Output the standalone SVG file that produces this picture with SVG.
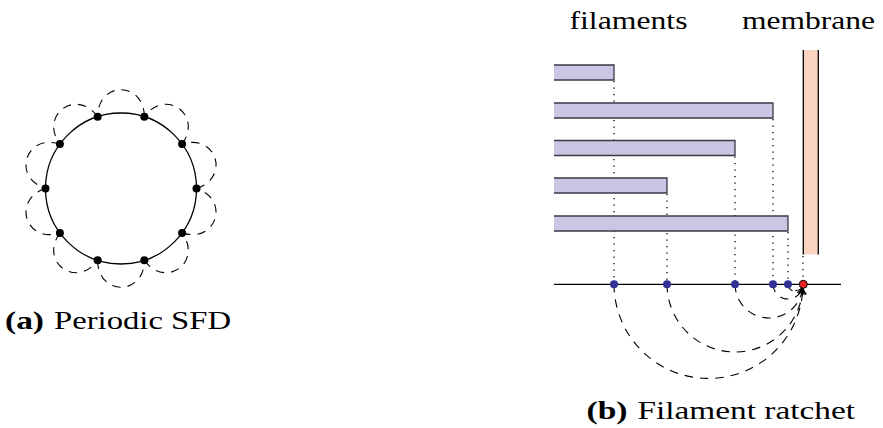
<svg xmlns="http://www.w3.org/2000/svg" width="883" height="428" viewBox="0 0 883 428">
<style>
  .lbl{font-family:"Liberation Serif","Times New Roman",serif;font-size:26px;fill:#000}
  .bold{font-weight:bold}
  .loop{fill:none;stroke:#000;stroke-width:1.1;stroke-dasharray:8.5 7}
  .jump{fill:none;stroke:#000;stroke-width:1.1;stroke-dasharray:8.5 7;marker-end:url(#tip)}
  .dot{fill:none;stroke:#000;stroke-width:1.3;stroke-dasharray:1.3 5.2}
  .node{fill:#000}
  .site{fill:#313196}
  .front{fill:#ee2222;stroke:#000;stroke-width:1}
  .bar{fill:#c8c6e2}
  .barEdge{fill:none;stroke:#3a3a48;stroke-width:1.3}
</style>
<defs>
  <marker id="tip" markerUnits="userSpaceOnUse" viewBox="-7 -5 9 10" refX="0" refY="0" markerWidth="9" markerHeight="10" orient="auto">
    <path d="M-5.5,-3.8 C-4,-1.6 -1.2,-0.5 0,0 C-1.2,0.5 -4,1.6 -5.5,3.8" fill="none" stroke="#000" stroke-width="1.1" stroke-dasharray="none"/>
  </marker>
</defs>

<!-- Panel (a): periodic SFD -->
<g id="ring">
  <circle cx="121" cy="188.5" r="75.5" fill="none" stroke="#000" stroke-width="1.3"/>
</g>
<g id="loops">
  <path class="loop" d="M196.5,188.5 C230.74,177.38 216.32,133 182.08,144.12"/>
  <path class="loop" d="M182.08,144.12 C203.24,115 165.49,87.57 144.33,116.69"/>
  <path class="loop" d="M144.33,116.69 C144.33,80.69 97.67,80.69 97.67,116.69"/>
  <path class="loop" d="M97.67,116.69 C76.51,87.57 38.76,115 59.92,144.12"/>
  <path class="loop" d="M59.92,144.12 C25.68,133 11.26,177.38 45.5,188.5"/>
  <path class="loop" d="M45.5,188.5 C11.26,199.62 25.68,244 59.92,232.88"/>
  <path class="loop" d="M59.92,232.88 C38.76,262 76.51,289.43 97.67,260.31"/>
  <path class="loop" d="M97.67,260.31 C97.67,296.31 144.33,296.31 144.33,260.31"/>
  <path class="loop" d="M144.33,260.31 C165.49,289.43 203.24,262 182.08,232.88"/>
  <path class="loop" d="M182.08,232.88 C216.32,244 230.74,199.62 196.5,188.5"/>
</g>
<g id="n0"><circle class="node" cx="196.5" cy="188.5" r="4"/></g>
<g id="n1"><circle class="node" cx="182.08" cy="144.12" r="4"/></g>
<g id="n2"><circle class="node" cx="144.33" cy="116.69" r="4"/></g>
<g id="n3"><circle class="node" cx="97.67" cy="116.69" r="4"/></g>
<g id="n4"><circle class="node" cx="59.92" cy="144.12" r="4"/></g>
<g id="n5"><circle class="node" cx="45.5" cy="188.5" r="4"/></g>
<g id="n6"><circle class="node" cx="59.92" cy="232.88" r="4"/></g>
<g id="n7"><circle class="node" cx="97.67" cy="260.31" r="4"/></g>
<g id="n8"><circle class="node" cx="144.33" cy="260.31" r="4"/></g>
<g id="n9"><circle class="node" cx="182.08" cy="232.88" r="4"/></g>
<g id="captionA">
  <text class="lbl bold" x="5" y="328.5" textLength="39" lengthAdjust="spacingAndGlyphs">(a)</text>
  <text class="lbl" x="54" y="328.5" textLength="177" lengthAdjust="spacingAndGlyphs">Periodic SFD</text>
</g>

<!-- Panel (b): filament ratchet -->
<g id="labels">
  <text class="lbl" x="569.5" y="28.5" textLength="118" lengthAdjust="spacingAndGlyphs">filaments</text>
  <text class="lbl" x="742" y="28.5" textLength="133" lengthAdjust="spacingAndGlyphs">membrane</text>
</g>
<g id="guides">
  <line class="dot" x1="614" y1="81" x2="614" y2="284"/>
  <line class="dot" x1="773" y1="119" x2="773" y2="284"/>
  <line class="dot" x1="735" y1="156.5" x2="735" y2="284"/>
  <line class="dot" x1="667" y1="194" x2="667" y2="284"/>
  <line class="dot" x1="788" y1="232" x2="788" y2="284"/>
  <line class="dot" x1="803" y1="256" x2="803" y2="284"/>
</g>
<g id="membrane">
  <rect x="803.3" y="50" width="15" height="204.5" fill="#fad3c1"/>
  <line x1="803.3" y1="50" x2="803.3" y2="254.5" stroke="#000" stroke-width="1.3"/>
  <line x1="818.3" y1="50" x2="818.3" y2="254.5" stroke="#000" stroke-width="1.3"/>
</g>
<g id="f1">
  <rect class="bar" x="554" y="65" width="60" height="15"/>
  <path class="barEdge" d="M554,65 H614 V80 H554"/>
</g>
<g id="f2">
  <rect class="bar" x="554" y="103" width="219" height="15"/>
  <path class="barEdge" d="M554,103 H773 V118 H554"/>
</g>
<g id="f3">
  <rect class="bar" x="554" y="140.5" width="181" height="15"/>
  <path class="barEdge" d="M554,140.5 H735 V155.5 H554"/>
</g>
<g id="f4">
  <rect class="bar" x="554" y="178" width="113" height="15"/>
  <path class="barEdge" d="M554,178 H667 V193 H554"/>
</g>
<g id="f5">
  <rect class="bar" x="554" y="216" width="234" height="15"/>
  <path class="barEdge" d="M554,216 H788 V231 H554"/>
</g>
<g id="axis">
  <line x1="554" y1="284.3" x2="841" y2="284.3" stroke="#000" stroke-width="1.3"/>
</g>
<g id="jumps">
  <path class="jump" d="M614,284 A94.5,94.5 0 0 0 802.89,288.5"/>
  <path class="jump" d="M667,284 A68,68 0 0 0 802.85,288.5"/>
  <path class="jump" d="M735,284 A34,34 0 0 0 802.7,288.49"/>
  <path class="jump" d="M773,284 A15,15 0 0 0 802.33,288.45"/>
  <path class="jump" d="M788,284 A7.5,7.5 0 0 0 801.65,288.29"/>
</g>
<g id="s1"><circle class="site" cx="614" cy="284.3" r="4"/></g>
<g id="s2"><circle class="site" cx="667" cy="284.3" r="4"/></g>
<g id="s3"><circle class="site" cx="735" cy="284.3" r="4"/></g>
<g id="s4"><circle class="site" cx="773" cy="284.3" r="4"/></g>
<g id="s5"><circle class="site" cx="788" cy="284.3" r="4"/></g>
<g id="front"><circle class="front" cx="803.3" cy="284.3" r="4"/></g>
<g id="captionB">
  <text class="lbl bold" x="586.5" y="419" textLength="41" lengthAdjust="spacingAndGlyphs">(b)</text>
  <text class="lbl" x="637.5" y="419" textLength="217.5" lengthAdjust="spacingAndGlyphs">Filament ratchet</text>
</g>
</svg>
